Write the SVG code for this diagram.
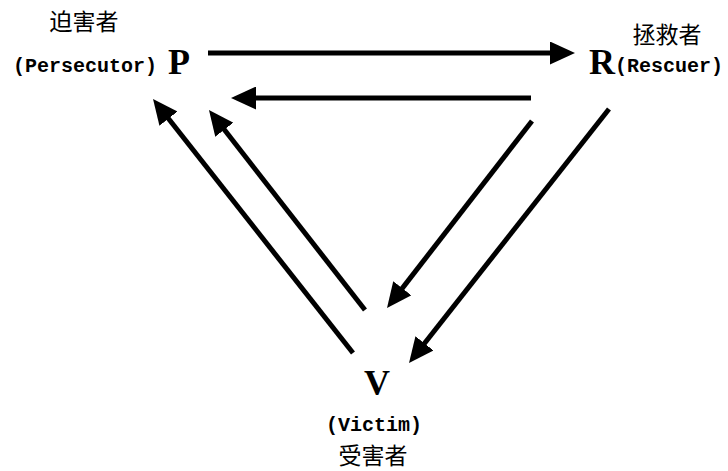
<svg xmlns="http://www.w3.org/2000/svg" width="728" height="471" viewBox="0 0 728 471">
<style>
.cjk{font-family:"Noto Sans CJK SC","Noto Sans CJK JP",sans-serif;font-size:23px;fill:#000}
.mono{font-family:"Liberation Mono",monospace;font-size:20px;font-weight:bold;fill:#000}
.big{font-family:"Liberation Serif",serif;font-size:36px;font-weight:bold;fill:#000}
.conn line{stroke:#000;stroke-width:5;fill:none;marker-end:url(#ah)}
</style>
<defs>
<marker id="ah" markerUnits="userSpaceOnUse" viewBox="0 0 25 23" markerWidth="25" markerHeight="23" refX="10" refY="11.5" orient="auto">
<path d="M0,0 L25,11.5 L0,23 Z" fill="#000"/>
</marker>
</defs>
<rect width="728" height="471" fill="#fff"/>
<g id="node-P">
<text class="cjk" x="84" y="30" text-anchor="middle">迫害者</text>
<text class="mono" x="13" y="72">(Persecutor)</text>
<text class="big" x="168" y="74">P</text>
</g>
<g id="node-R">
<text class="cjk" x="667" y="43" text-anchor="middle">拯救者</text>
<text class="big" x="589" y="74">R</text>
<text class="mono" x="615" y="72">(Rescuer)</text>
</g>
<g id="node-V">
<text class="big" x="377" y="395" text-anchor="middle">V</text>
<text class="mono" x="374" y="431" text-anchor="middle">(Victim)</text>
<text class="cjk" x="373" y="464" text-anchor="middle">受害者</text>
</g>
<g id="connectors" class="conn">
<line x1="208" y1="53" x2="560" y2="53"/>
<line x1="531" y1="98" x2="246" y2="98"/>
<line x1="353" y1="353" x2="162.3" y2="110.8"/>
<line x1="365" y1="310" x2="218.2" y2="121.8"/>
<line x1="532" y1="121" x2="396.2" y2="296.1"/>
<line x1="609" y1="109" x2="418.3" y2="351.2"/>
</g>
</svg>
